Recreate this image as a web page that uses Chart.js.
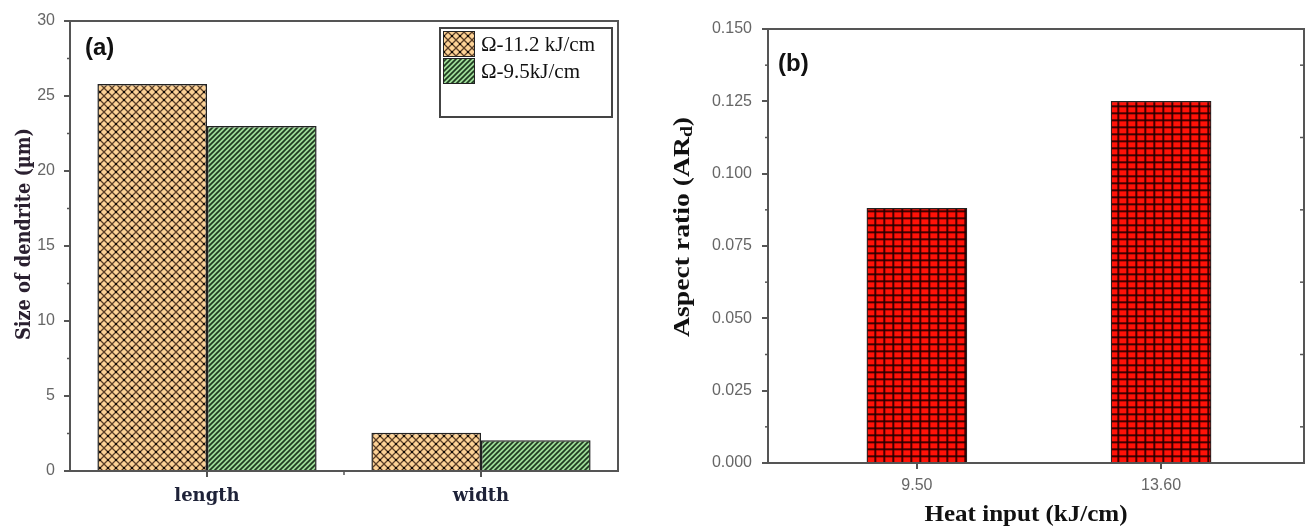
<!DOCTYPE html>
<html>
<head>
<meta charset="utf-8">
<script src="https://cdn.jsdelivr.net/npm/chart.js@4/dist/chart.umd.min.js"></script>
<style>
  body { margin: 0; background: #fff; width: 1309px; height: 530px; position: relative; overflow: hidden; }
  .wrap { position: absolute; top: 0; height: 530px; }
  .tag { position: absolute; font: bold 24px "Liberation Sans", Arial, sans-serif; color: #111; line-height: 1; }
</style>
</head>
<body>
<div class="wrap" style="left:0;width:640px"><canvas id="chartA" width="640" height="530"></canvas></div>
<div class="wrap" style="left:640px;width:669px"><canvas id="chartB" width="669" height="530"></canvas></div>
<div class="tag" style="left:85px;top:35px">(a)</div>
<div class="tag" style="left:778px;top:51px">(b)</div>
<script>
// (a) dendrite size
const dendriteCategories = ["length", "width"];
const seriesLabels = ["Ω-11.2 kJ/cm", "Ω-9.5kJ/cm"];
const size112 = [25.8, 2.55];
const size95 = [23.0, 2.05];
const sizeTicks = [0, 5, 10, 15, 20, 25, 30];

// (b) aspect ratio
const heatInputs = [9.5, 13.6];
const heatInputLabels = ["9.50", "13.60"];
const aspectRatios = [0.088, 0.125];
const aspectTicks = [0, 0.025, 0.05, 0.075, 0.1, 0.125, 0.15];

function makePattern(w, h, draw) {
  const c = document.createElement("canvas");
  c.width = w; c.height = h;
  const g = c.getContext("2d");
  draw(g, w, h);
  return g.createPattern(c, "repeat");
}

const crossHatch = makePattern(8, 8, g => {
  g.fillStyle = "#fcd296"; g.fillRect(0, 0, 8, 8);
  g.strokeStyle = "#5a3e26"; g.lineWidth = 1.3;
  g.beginPath(); g.moveTo(0, 0); g.lineTo(8, 8); g.moveTo(8, 0); g.lineTo(0, 8); g.stroke();
  g.fillStyle = "#000"; g.fillRect(3.1, 3.1, 1.8, 1.8);
});

const greenStripes = makePattern(5, 5, g => {
  g.fillStyle = "#9edb98"; g.fillRect(0, 0, 5, 5);
  g.strokeStyle = "#1f3a20"; g.lineWidth = 1.7;
  g.beginPath();
  g.moveTo(-1, 6); g.lineTo(6, -1);
  g.moveTo(-1, 1); g.lineTo(1, -1);
  g.moveTo(4, 6); g.lineTo(6, 4);
  g.stroke();
});

const redGrid = makePattern(9, 7, g => {
  g.fillStyle = "#ff1208"; g.fillRect(0, 0, 9, 7);
  g.fillStyle = "rgba(120,0,0,0.45)"; g.fillRect(0, 0, 3, 7); g.fillRect(0, 0, 9, 3);
  g.fillStyle = "rgba(30,0,0,0.8)"; g.fillRect(0.5, 0, 1.5, 7); g.fillRect(0, 0.5, 9, 1.5);
});

const frame = {
  id: "frame",
  afterDraw(chart) {
    const { ctx, chartArea: a } = chart;
    ctx.save();
    ctx.strokeStyle = "#555"; ctx.lineWidth = 2;
    ctx.strokeRect(a.left, a.top, a.right - a.left, a.bottom - a.top);
    ctx.restore();
  }
};

function minorTicks(opts) {
  return {
    id: "minorTicks",
    afterDraw(chart) {
      const { ctx, chartArea: a, scales } = chart;
      const y = scales.y;
      ctx.save();
      ctx.strokeStyle = "#555"; ctx.lineWidth = 1.5;
      for (let i = 0; i < y.ticks.length - 1; i++) {
        const py = y.getPixelForValue((y.ticks[i].value + y.ticks[i + 1].value) / 2);
        ctx.beginPath(); ctx.moveTo(a.left - 3, py); ctx.lineTo(a.left, py); ctx.stroke();
        if (opts.right) {
          ctx.beginPath(); ctx.moveTo(a.right - 4, py); ctx.lineTo(a.right, py); ctx.stroke();
        }
      }
      if (opts.xMid) {
        const x = scales.x;
        const px = (x.getPixelForValue(0) + x.getPixelForValue(1)) / 2;
        ctx.beginPath(); ctx.moveTo(px, a.bottom); ctx.lineTo(px, a.bottom + 4); ctx.stroke();
      }
      ctx.restore();
    }
  };
}

const boxLegend = {
  id: "boxLegend",
  afterDraw(chart) {
    const { ctx, chartArea: a } = chart;
    const w = 172, h = 89, x0 = a.right - 6 - w, y0 = a.top + 7;
    ctx.save();
    ctx.fillStyle = "#fff"; ctx.fillRect(x0, y0, w, h);
    ctx.strokeStyle = "#444"; ctx.lineWidth = 2; ctx.strokeRect(x0, y0, w, h);
    chart.data.datasets.forEach((ds, i) => {
      const sy = y0 + 3 + i * 27;
      ctx.fillStyle = ds.backgroundColor; ctx.fillRect(x0 + 3, sy, 32, 26);
      ctx.strokeStyle = "#222"; ctx.lineWidth = 1; ctx.strokeRect(x0 + 3.5, sy + 0.5, 31, 25);
      ctx.fillStyle = "#111";
      ctx.font = '21px "Liberation Serif", serif';
      ctx.textBaseline = "middle"; ctx.textAlign = "left";
      ctx.fillText(ds.label, x0 + 41, sy + 14);
    });
    ctx.restore();
  }
};

function axisTitles(items) {
  return {
    id: "axisTitles",
    afterDraw(chart) {
      const ctx = chart.ctx;
      items.forEach(t => {
        ctx.save();
        ctx.translate(t.x, t.y);
        if (t.rotate) ctx.rotate(-Math.PI / 2);
        ctx.fillStyle = t.color;
        ctx.textBaseline = "middle"; ctx.textAlign = "left";
        let total = 0;
        const widths = t.parts.map(p => {
          ctx.font = `bold ${p.size}px ${t.family}`;
          const w = ctx.measureText(p.text).width;
          total += w;
          return w;
        });
        ctx.scale(t.length / total, 1);
        let x = -total / 2;
        t.parts.forEach((p, i) => {
          ctx.font = `bold ${p.size}px ${t.family}`;
          ctx.fillText(p.text, x, p.dy || 0);
          x += widths[i];
        });
        ctx.restore();
      });
    }
  };
}

const tickFont = { family: '"Liberation Sans", Arial, sans-serif', size: 16 };
const gridStyle = { drawOnChartArea: false, drawTicks: true, tickLength: 6, color: "#555", lineWidth: 2, offset: false };

new Chart(document.getElementById("chartA"), {
  type: "bar",
  data: {
    labels: dendriteCategories,
    datasets: [
      { label: seriesLabels[0], data: size112, backgroundColor: crossHatch, borderColor: "#222", borderWidth: 1.5, categoryPercentage: 0.8, barPercentage: 1 },
      { label: seriesLabels[1], data: size95, backgroundColor: greenStripes, borderColor: "#222", borderWidth: 1.5, categoryPercentage: 0.8, barPercentage: 1 }
    ]
  },
  options: {
    responsive: false,
    animation: false,
    layout: { padding: { top: 21, right: 22, left: 0, bottom: 0 } },
    plugins: { legend: { display: false }, tooltip: { enabled: false } },
    scales: {
      x: {
        offset: true,
        grid: gridStyle,
        border: { display: false },
        ticks: { padding: 9, color: "#1e2238", font: { family: '"DejaVu Serif", serif', weight: "bold", size: 18 } },
        afterFit: s => { s.height = 59; }
      },
      y: {
        min: 0, max: 30,
        afterBuildTicks: s => { s.ticks = sizeTicks.map(v => ({ value: v })); },
        grid: gridStyle,
        border: { display: false },
        ticks: { padding: 9, color: "#666", font: tickFont },
        afterFit: s => { s.width = 70; }
      }
    }
  },
  plugins: [
    frame,
    minorTicks({ xMid: true }),
    boxLegend,
    axisTitles([
      { parts: [{ text: "Size of dendrite (µm)", size: 20 }], x: 25, y: 234, rotate: true, length: 212,
        family: '"DejaVu Serif", serif', color: "#2a2030" }
    ])
  ]
});

new Chart(document.getElementById("chartB"), {
  type: "bar",
  data: {
    datasets: [{
      label: "Aspect ratio",
      data: heatInputs.map((x, i) => ({ x, y: aspectRatios[i] })),
      backgroundColor: redGrid,
      borderColor: "#222",
      borderWidth: 1.2,
      barThickness: 100
    }]
  },
  options: {
    responsive: false,
    animation: false,
    layout: { padding: { top: 29, right: 5, left: 0, bottom: 0 } },
    plugins: { legend: { display: false }, tooltip: { enabled: false } },
    scales: {
      x: {
        type: "linear",
        min: 7, max: 16,
        offset: false,
        afterBuildTicks: s => { s.ticks = heatInputs.map(v => ({ value: v })); },
        grid: gridStyle,
        border: { display: false },
        ticks: { padding: 7, color: "#666", font: tickFont, callback: (v, i) => heatInputLabels[i] },
        afterFit: s => { s.height = 67; }
      },
      y: {
        min: 0, max: 0.15,
        afterBuildTicks: s => { s.ticks = aspectTicks.map(v => ({ value: v })); },
        grid: gridStyle,
        border: { display: false },
        ticks: { padding: 10, color: "#666", font: tickFont, callback: v => v.toFixed(3) },
        afterFit: s => { s.width = 128; }
      }
    }
  },
  plugins: [
    frame,
    minorTicks({ right: true }),
    axisTitles([
      { parts: [{ text: "Aspect ratio (AR", size: 24 }, { text: "d", size: 17, dy: 5 }, { text: ")", size: 24 }],
        x: 43, y: 227, rotate: true, length: 220, family: '"Liberation Serif", "Times New Roman", serif', color: "#111" },
      { parts: [{ text: "Heat input (kJ/cm)", size: 24 }],
        x: 386, y: 515, rotate: false, length: 203, family: '"Liberation Serif", "Times New Roman", serif', color: "#111" }
    ])
  ]
});
</script>
</body>
</html>
